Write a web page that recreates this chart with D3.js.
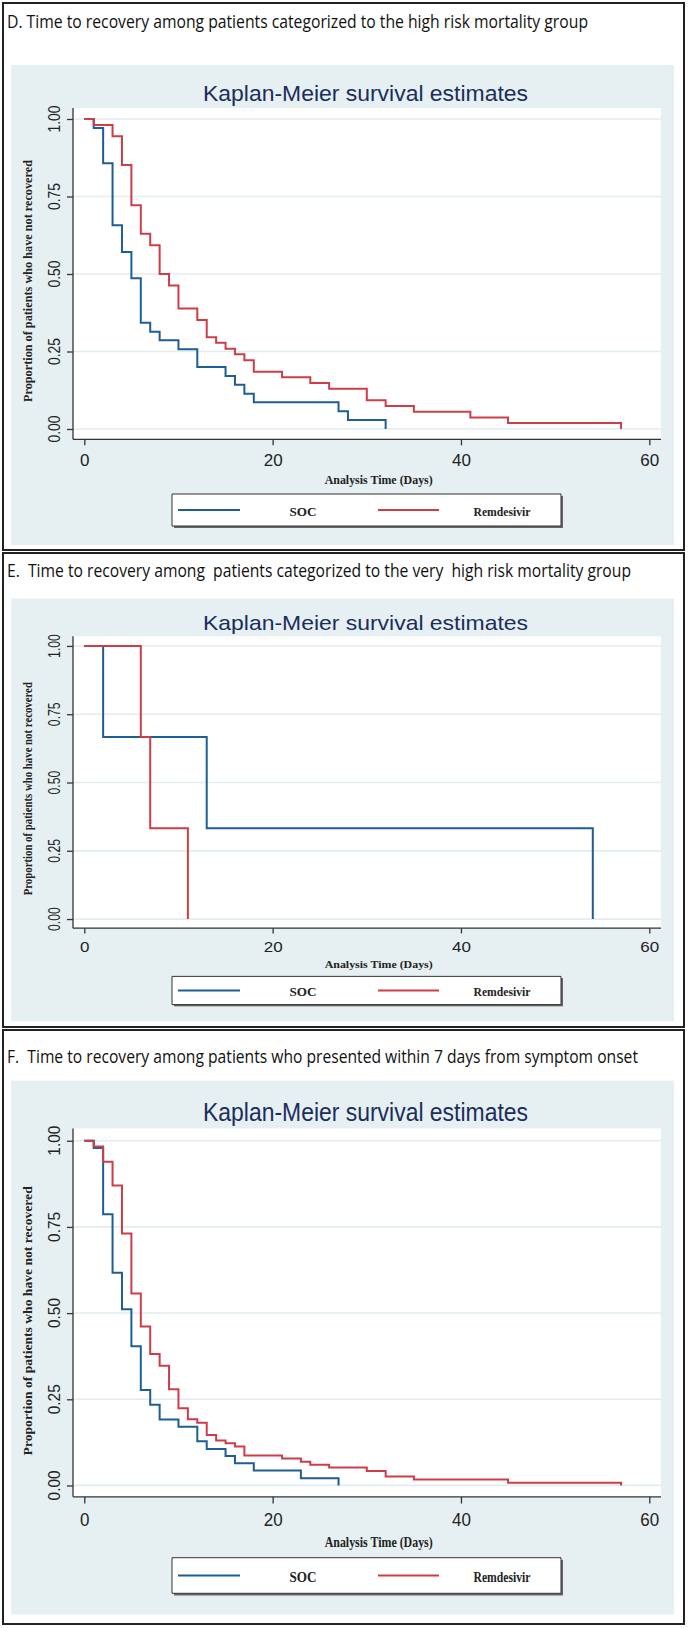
<!DOCTYPE html>
<html lang="en">
<head>
    <meta charset="UTF-8">
    <title>Time to recovery - Kaplan-Meier</title>
    <script src="https://d3js.org/d3.v7.min.js"></script>
    <style>
        body { margin: 0; background: #fff; }
        svg { display: block; }
    </style>
</head>
<body>

<script>

    // Data ////////////////////////////////////
    var timeTicks = [0, 20, 40, 60];
    var survTicks = [0, 0.25, 0.5, 0.75, 1];
    var seriesNames = ['SOC', 'Remdesivir'];
    var panelTitles = [
        'D. Time to recovery among patients categorized to the high risk mortality group',
        'E.  Time to recovery among  patients categorized to the very  high risk mortality group',
        'F.  Time to recovery among patients who presented within 7 days from symptom onset'
    ];
    var plotTitle = 'Kaplan-Meier survival estimates';
    var xAxisTitle = 'Analysis Time (Days)';
    var yAxisTitle = 'Proportion of patients who have not recovered';

    // D. high risk
    var dSocTime = [0, 1, 2, 3, 4, 5, 6, 7, 8, 10, 12, 15, 16, 17, 18, 27, 28, 32];
    var dSocSurv = [1, 0.971, 0.857, 0.657, 0.571, 0.486, 0.343, 0.314, 0.286, 0.257, 0.2, 0.171, 0.143, 0.114, 0.086, 0.057, 0.029, 0];
    var dRemTime = [0, 1, 3, 4, 5, 6, 7, 8, 9, 10, 12, 13, 14, 15, 16, 17, 18, 21, 24, 26, 30, 32, 35, 41, 45, 57];
    var dRemSurv = [1, 0.981, 0.944, 0.852, 0.722, 0.630, 0.593, 0.500, 0.463, 0.389, 0.352, 0.296, 0.278, 0.259, 0.241, 0.222, 0.185, 0.167, 0.148, 0.130, 0.093, 0.074, 0.056, 0.037, 0.019, 0];

    // E. very high risk
    var eSocTime = [0, 2, 13, 54];
    var eSocSurv = [1, 0.667, 0.333, 0];
    var eRemTime = [0, 6, 7, 11];
    var eRemSurv = [1, 0.667, 0.333, 0];

    // F. presented within 7 days
    var fSocTime = [0, 1, 2, 3, 4, 5, 6, 7, 8, 10, 12, 13, 15, 16, 18, 23, 27];
    var fSocSurv = [1, 0.979, 0.787, 0.617, 0.511, 0.404, 0.277, 0.234, 0.191, 0.170, 0.128, 0.106, 0.085, 0.064, 0.043, 0.021, 0];
    var fRemTime = [0, 1, 2, 3, 4, 5, 6, 7, 8, 9, 10, 11, 12, 13, 14, 15, 16, 17, 21, 23, 24, 26, 30, 32, 35, 45, 57];
    var fRemSurv = [1, 0.983, 0.939, 0.870, 0.731, 0.557, 0.461, 0.381, 0.347, 0.279, 0.224, 0.192, 0.182, 0.146, 0.130, 0.122, 0.113, 0.087, 0.078, 0.069, 0.060, 0.052, 0.042, 0.026, 0.017, 0.008, 0];

    // Layout ////////////////////////////////////
    var width = 688;
    var height = 1628;
    var colors = {SOC: '#1d5e96', Remdesivir: '#cd3d48'};
    var sans = '"Liberation Sans", Arial, sans-serif';
    var serif = '"Liberation Serif", "Times New Roman", serif';
    var titleFont = '"Open Sans", "Noto Sans", sans-serif';

    // each panel = same stata graph, stretched vertically by k
    var panels = [
        {title: panelTitles[0], box: [3, 550], titleBase: 28.3, titleLen: 581, top1: 119, k: 1,
            series: [[dSocTime, dSocSurv], [dRemTime, dRemSurv]]},
        {title: panelTitles[1], box: [553, 1027], titleBase: 577.3, titleLen: 624, top1: 646, k: 0.881,
            series: [[eSocTime, eSocSurv], [eRemTime, eRemSurv]]},
        {title: panelTitles[2], box: [1030, 1624], titleBase: 1062.7, titleLen: 631, top1: 1140.7, k: 1.112,
            series: [[fSocTime, fSocSurv], [fRemTime, fRemSurv]]}
    ];

    // frame of the graph in panel D coordinates
    var frame = {
        grey: {x0: 11, x1: 674, y0: 65, y1: 545},
        plot: {x0: 73, x1: 661, y0: 108, y1: 439.3},
        legend: {x0: 172, x1: 561, y0: 494, y1: 526, lineY: 510, textY: 516}
    };

    var x = d3.scaleLinear().domain([0, 60]).range([84.3, 649.3]);
    var y = d3.scaleLinear().domain([0, 1]).range([429, 119]);

    var line = d3.line()
            .x(function (d) { return x(d[0]); })
            .y(function (d) { return y(d[1]); })
            .curve(d3.curveStepAfter);

    var svg = d3.select('body').append('svg').attr('width', width).attr('height', height);

    panels.forEach(function (p) {

        //________________________________________________
        // Panel box + caption
        //________________________________________________
        svg.append('rect')
                .attr('x', 3).attr('y', p.box[0])
                .attr('width', 681).attr('height', p.box[1] - p.box[0])
                .attr('fill', 'none').attr('stroke', '#222').attr('stroke-width', 2);

        svg.append('text')
                .attr('x', 7).attr('y', p.titleBase)
                .attr('xml:space', 'preserve')
                .style('white-space', 'pre')
                .attr('font-family', titleFont).attr('font-size', 18).attr('fill', '#111')
                .attr('textLength', p.titleLen).attr('lengthAdjust', 'spacingAndGlyphs')
                .text(p.title);

        //________________________________________________
        // Graph (scaled copy of the D frame)
        //________________________________________________
        var g = svg.append('g')
                .attr('transform', 'translate(0,' + (p.top1 - 119 * p.k) + ') scale(1,' + p.k + ')');

        g.append('rect')
                .attr('x', frame.grey.x0).attr('y', frame.grey.y0)
                .attr('width', frame.grey.x1 - frame.grey.x0).attr('height', frame.grey.y1 - frame.grey.y0)
                .attr('fill', '#e6f0f2');

        g.append('text')
                .attr('x', 365.5).attr('y', 101)
                .attr('text-anchor', 'middle')
                .attr('font-family', sans).attr('font-size', 22.5).attr('fill', '#1b2d5c')
                .attr('textLength', 325).attr('lengthAdjust', 'spacingAndGlyphs')
                .text(plotTitle);

        g.append('rect')
                .attr('x', frame.plot.x0).attr('y', frame.plot.y0)
                .attr('width', frame.plot.x1 - frame.plot.x0).attr('height', frame.plot.y1 - frame.plot.y0)
                .attr('fill', '#fff');

        // Grid
        g.selectAll('line.grid').data(survTicks).enter().append('line')
                .attr('class', 'grid')
                .attr('x1', frame.plot.x0).attr('x2', frame.plot.x1)
                .attr('y1', function (d) { return y(d); })
                .attr('y2', function (d) { return y(d); })
                .attr('stroke', '#e2edf0').attr('stroke-width', 1.6)
                .attr('vector-effect', 'non-scaling-stroke');

        // Curves (SOC first, Remdesivir on top)
        p.series.forEach(function (s, i) {
            g.append('path')
                    .datum(d3.zip(s[0], s[1]))
                    .attr('d', line)
                    .attr('fill', 'none')
                    .attr('stroke', colors[seriesNames[i]]).attr('stroke-width', 2)
                    .attr('vector-effect', 'non-scaling-stroke');
        });

        // Axes
        var xg = g.append('g')
                .attr('transform', 'translate(0,' + frame.plot.y1 + ')')
                .call(d3.axisBottom(x).tickValues(timeTicks).tickSize(6).tickSizeOuter(0).tickPadding(8.5).tickFormat(d3.format('d')))
                .attr('color', '#333').attr('font-family', sans).attr('font-size', 17);
        xg.select('.domain').remove();
        xg.selectAll('text').attr('fill', '#222');

        var yg = g.append('g')
                .attr('transform', 'translate(' + frame.plot.x0 + ',0)')
                .call(d3.axisLeft(y).tickValues(survTicks).tickSize(6).tickSizeOuter(0).tickFormat(''))
                .attr('color', '#333');
        yg.select('.domain').remove();

        g.append('line')
                .attr('x1', frame.plot.x0).attr('x2', frame.plot.x1)
                .attr('y1', frame.plot.y1).attr('y2', frame.plot.y1);
        g.append('line')
                .attr('x1', frame.plot.x0).attr('x2', frame.plot.x0)
                .attr('y1', frame.plot.y0).attr('y2', frame.plot.y1);
        g.selectAll('g.tick line, g > line:not(.grid)')
                .attr('stroke', '#333').attr('stroke-width', 1.3)
                .attr('vector-effect', 'non-scaling-stroke');

        g.selectAll('text.ylab').data(survTicks).enter().append('text')
                .attr('class', 'ylab')
                .attr('transform', function (d) { return 'translate(60,' + y(d) + ') rotate(-90)'; })
                .attr('text-anchor', 'middle')
                .attr('font-family', sans).attr('font-size', 16).attr('fill', '#222')
                .attr('textLength', 27).attr('lengthAdjust', 'spacingAndGlyphs')
                .text(d3.format('.2f'));

        // Axis titles
        g.append('text')
                .attr('transform', 'translate(32,281) rotate(-90)')
                .attr('text-anchor', 'middle')
                .attr('font-family', serif).attr('font-weight', 'bold').attr('font-size', 12.5).attr('fill', '#222')
                .attr('textLength', 242).attr('lengthAdjust', 'spacingAndGlyphs')
                .text(yAxisTitle);

        g.append('text')
                .attr('x', 378.7).attr('y', 484)
                .attr('text-anchor', 'middle')
                .attr('font-family', serif).attr('font-weight', 'bold').attr('font-size', 12.5).attr('fill', '#222')
                .attr('textLength', 108).attr('lengthAdjust', 'spacingAndGlyphs')
                .text(xAxisTitle);

        //________________________________________________
        // Legend
        //________________________________________________
        var L = frame.legend;
        g.append('rect')
                .attr('x', L.x0 + 2).attr('y', L.y0 + 2)
                .attr('width', L.x1 - L.x0).attr('height', L.y1 - L.y0)
                .attr('fill', '#666');
        g.append('rect')
                .attr('x', L.x0).attr('y', L.y0)
                .attr('width', L.x1 - L.x0).attr('height', L.y1 - L.y0)
                .attr('fill', '#fff').attr('stroke', '#333').attr('stroke-width', 1)
                .attr('vector-effect', 'non-scaling-stroke');

        var legendItems = [
            {name: seriesNames[0], lx: [178, 240], tx: 303, tl: 27},
            {name: seriesNames[1], lx: [378, 439], tx: 502, tl: 57}
        ];
        legendItems.forEach(function (d) {
            g.append('line')
                    .attr('x1', d.lx[0]).attr('x2', d.lx[1])
                    .attr('y1', L.lineY).attr('y2', L.lineY)
                    .attr('stroke', colors[d.name]).attr('stroke-width', 2)
                    .attr('vector-effect', 'non-scaling-stroke');
            g.append('text')
                    .attr('x', d.tx).attr('y', L.textY)
                    .attr('text-anchor', 'middle')
                    .attr('font-family', serif).attr('font-weight', 'bold').attr('font-size', 13.5).attr('fill', '#222')
                    .attr('textLength', d.tl).attr('lengthAdjust', 'spacingAndGlyphs')
                    .text(d.name);
        });
    });

</script>

</body>
</html>
